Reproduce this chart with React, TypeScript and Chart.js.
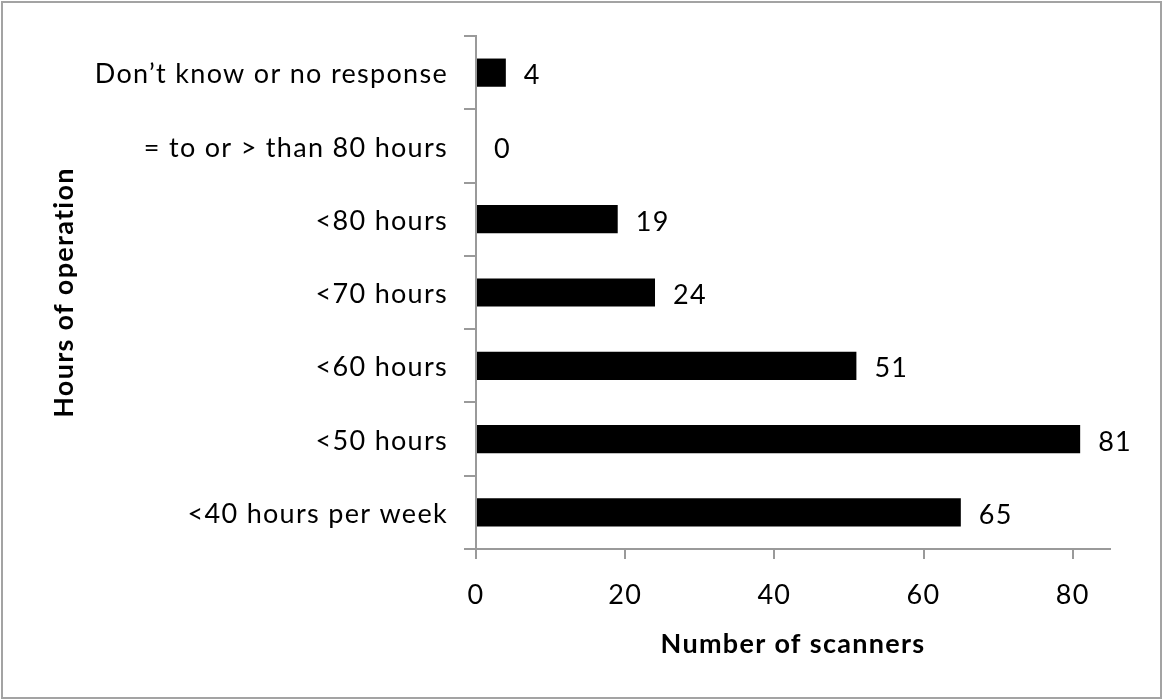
import React, { useEffect, useRef } from "react";
import { Chart, registerables } from "chart.js";

Chart.register(...registerables);

// Categories listed top to bottom as they appear on the axis
const categories: string[] = [
  "Don’t know or no response",
  "= to or > than 80 hours",
  "<80 hours",
  "<70 hours",
  "<60 hours",
  "<50 hours",
  "<40 hours per week",
];

const scannerCounts: number[] = [4, 0, 19, 24, 51, 81, 65];

const xTickValues: number[] = [0, 20, 40, 60, 80];
const xMax = 85;

const xTitle = "Number of scanners";
const yTitle = "Hours of operation";

const FONT_FAMILY = "Lato, 'Open Sans', sans-serif";
const FONT_SIZE = 27;
const AXIS_GRAY = "#9a9a9a";

// Slightly looser tracking for every piece of text on the canvas
const textTracking = {
  id: "textTracking",
  beforeDraw(chart: Chart) {
    (chart.ctx as any).letterSpacing = "1.3px";
  },
};

// Writes each bar's value just past its end
const valueLabels = {
  id: "valueLabels",
  afterDatasetsDraw(chart: Chart) {
    const { ctx } = chart;
    const meta = chart.getDatasetMeta(0);
    const data = chart.data.datasets[0].data as number[];
    ctx.save();
    (ctx as any).letterSpacing = "1.3px";
    ctx.font = `${FONT_SIZE}px ${FONT_FAMILY}`;
    ctx.fillStyle = "#000";
    ctx.textAlign = "left";
    ctx.textBaseline = "middle";
    meta.data.forEach((bar: any, i: number) => {
      ctx.fillText(String(data[i]), bar.x + 18, bar.y + 3);
    });
    ctx.restore();
  },
};

export default function App() {
  const canvasRef = useRef<HTMLCanvasElement | null>(null);

  useEffect(() => {
    const canvas = canvasRef.current;
    if (!canvas) return;
    const chart = new Chart(canvas, {
      type: "bar",
      data: {
        labels: categories,
        datasets: [
          {
            data: scannerCounts,
            backgroundColor: "#000",
            borderWidth: 0,
            barPercentage: 0.385,
            categoryPercentage: 1,
          },
        ],
      },
      options: {
        indexAxis: "y",
        animation: false,
        responsive: false,
        layout: { padding: { top: 36, right: 53, bottom: 0, left: 0 } },
        plugins: {
          legend: { display: false },
          tooltip: { enabled: false },
        },
        scales: {
          x: {
            min: 0,
            max: xMax,
            afterBuildTicks: (scale: any) => {
              scale.ticks = xTickValues.map((v) => ({ value: v }));
            },
            afterFit: (scale: any) => {
              scale.height = 150;
            },
            grid: {
              drawOnChartArea: false,
              drawTicks: true,
              tickLength: 10,
              color: AXIS_GRAY,
              lineWidth: 2,
            },
            border: { display: true, color: AXIS_GRAY, width: 2 },
            ticks: {
              color: "#000",
              padding: 20,
              font: { family: FONT_FAMILY, size: FONT_SIZE },
              maxRotation: 0,
            },
            title: {
              display: true,
              text: xTitle,
              color: "#000",
              font: { family: FONT_FAMILY, size: FONT_SIZE, weight: "bold" },
              padding: { top: 0, bottom: 39 },
            },
          },
          y: {
            afterFit: (scale: any) => {
              scale.width = 476;
            },
            grid: {
              offset: true,
              drawOnChartArea: false,
              drawTicks: true,
              tickLength: 12,
              color: AXIS_GRAY,
              lineWidth: 2,
            },
            border: { display: true, color: AXIS_GRAY, width: 2 },
            ticks: {
              color: "#000",
              padding: 16,
              labelOffset: 2,
              font: { family: FONT_FAMILY, size: FONT_SIZE },
            },
            title: {
              display: true,
              text: yTitle,
              color: "#000",
              font: { family: FONT_FAMILY, size: FONT_SIZE, weight: "bold" },
              padding: { top: 48, bottom: 0 },
            },
          },
        },
      },
      plugins: [textTracking, valueLabels],
    });
    return () => chart.destroy();
  }, []);

  return (
    <div
      style={{
        position: "fixed",
        left: 0,
        top: 0,
        width: 1163,
        height: 699,
        background: "#fff",
      }}
    >
      <canvas ref={canvasRef} width={1163} height={699} style={{ display: "block" }} />
      <div
        style={{
          position: "absolute",
          left: 1,
          top: 1,
          width: 1161,
          height: 698,
          boxSizing: "border-box",
          border: "2px solid #a3a3a3",
          pointerEvents: "none",
        }}
      />
    </div>
  );
}
